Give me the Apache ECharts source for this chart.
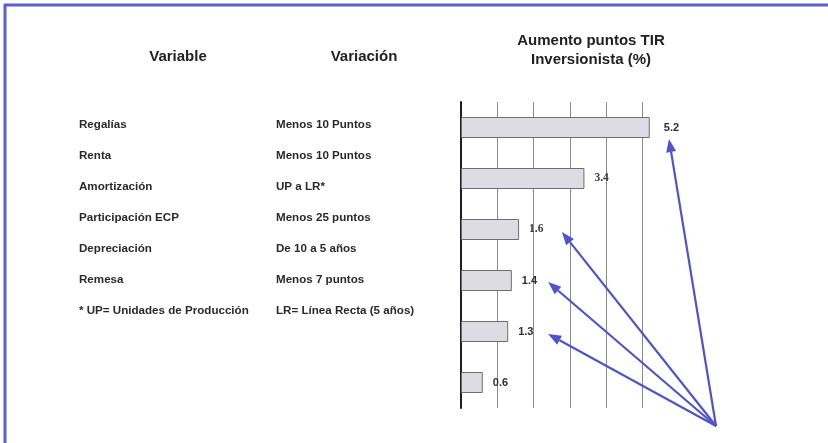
<!DOCTYPE html>
<html>
<head>
<meta charset="utf-8">
<script src="https://cdn.jsdelivr.net/npm/echarts@6/dist/echarts.min.js"></script>
<style>
html,body{margin:0;padding:0;background:#fff;}
#chart{width:828px;height:443px;}
</style>
</head>
<body>
<div id="chart"></div>
<script>
// ---- data ----
var categories = ['Regalías', 'Renta', 'Amortización', 'Participación ECP', 'Depreciación', 'Remesa'];
var values = [5.2, 3.4, 1.6, 1.4, 1.3, 0.6];
var variations = ['Menos 10 Puntos', 'Menos 10 Puntos', 'UP a LR*', 'Menos 25 puntos', 'De 10 a 5 años', 'Menos 7 puntos'];
var footnoteLeft = '* UP= Unidades de Producción';
var footnoteRight = 'LR= Línea Recta (5 años)';
var headers = ['Variable', 'Variación', 'Aumento puntos TIR', 'Inversionista (%)'];
// arrow targets: [value on x-axis, category index]
var arrowTargets = [[5.73, 0], [2.78, 2], [2.40, 3], [2.40, 4]];

// ---- layout / style ----
var arrowDy = [11.5, 2.5, 1.5, 2.5];
var arrowOrigin = [716, 426];
var blue = '#4f54cc';
var serifLabels = {1: true, 2: true};

var chart = echarts.init(document.getElementById('chart'));

var graphics = [];
// border (top + left)
graphics.push({type: 'line', shape: {x1: 4, y1: 5, x2: 828, y2: 5}, style: {stroke: '#5a5fd2', lineWidth: 3}, z: 10});
graphics.push({type: 'line', shape: {x1: 5, y1: 4, x2: 5, y2: 443}, style: {stroke: '#5a5fd2', lineWidth: 3}, z: 10});

var headStyle = {fill: '#222', font: 'bold 15px "Liberation Sans", Arial, sans-serif', textAlign: 'center', textVerticalAlign: 'middle'};
graphics.push({type: 'text', x: 178, y: 57, style: Object.assign({text: headers[0]}, headStyle)});
graphics.push({type: 'text', x: 364, y: 57, style: Object.assign({text: headers[1]}, headStyle)});
graphics.push({type: 'text', x: 591, y: 41, style: Object.assign({text: headers[2]}, headStyle)});
graphics.push({type: 'text', x: 591, y: 60, style: Object.assign({text: headers[3]}, headStyle)});

var rowFont = 'bold 11.6px "Liberation Sans", Arial, sans-serif';
var leftTexts = categories.concat([footnoteLeft]);
var rightTexts = variations.concat([footnoteRight]);
for (var i = 0; i < leftTexts.length; i++) {
  var yy = 125 + i * 31;
  graphics.push({type: 'text', x: 79, y: yy, style: {text: leftTexts[i], fill: '#2a2a2a', font: rowFont, textVerticalAlign: 'middle'}});
  graphics.push({type: 'text', x: 276, y: yy, style: {text: rightTexts[i], fill: '#2a2a2a', font: rowFont, textVerticalAlign: 'middle'}});
}

var seriesData = values.map(function (v, i) {
  var d = {value: v};
  if (serifLabels[i]) {
    d.label = {fontFamily: '"Liberation Serif", "DejaVu Serif", serif', fontWeight: 'bold', fontSize: 11.5, color: '#3a3a3a'};
  }
  if (i === 0) {
    d.label = {offset: [4, 0]};
  }
  return d;
});

chart.setOption({
  animation: false,
  backgroundColor: '#ffffff',
  grid: {left: 461, top: 102, width: 217.8, height: 306},
  xAxis: {
    type: 'value', min: 0, max: 6, interval: 1,
    axisLine: {show: false}, axisTick: {show: false}, axisLabel: {show: false},
    splitLine: {show: true, showMinLine: false, showMaxLine: false, lineStyle: {color: '#8a8a8a', width: 1}}
  },
  yAxis: {
    type: 'category', data: categories, inverse: true,
    axisLine: {show: true, lineStyle: {color: '#1e1e1e', width: 2}},
    axisTick: {show: true, inside: true, alignWithLabel: true, length: 5, lineStyle: {color: '#444', width: 1}},
    axisLabel: {show: false}
  },
  series: [{
    type: 'bar',
    data: seriesData,
    barWidth: 21,
    itemStyle: {color: '#dcdce2', borderColor: '#6e6e6e', borderWidth: 1},
    label: {show: true, position: 'right', distance: 10, color: '#2e2e2e', fontSize: 11, fontWeight: 'bold',
      fontFamily: '"Liberation Sans", Arial, sans-serif'}
  }],
  graphic: graphics
});

// arrows, anchored to data coordinates
var arrowEls = [];
arrowTargets.forEach(function (t, k) {
  var p = chart.convertToPixel({gridIndex: 0}, [t[0], categories[t[1]]]);
  var tx = p[0], ty = p[1] + arrowDy[k];
  var ox = arrowOrigin[0], oy = arrowOrigin[1];
  var dx = tx - ox, dy = ty - oy, len = Math.sqrt(dx * dx + dy * dy);
  var ux = dx / len, uy = dy / len;
  var hl = 13, hw = 5;
  var bx = tx - ux * hl, by = ty - uy * hl;
  arrowEls.push({type: 'line', shape: {x1: ox, y1: oy, x2: bx, y2: by}, style: {stroke: blue, lineWidth: 2.2}, z: 20});
  arrowEls.push({type: 'polygon', shape: {points: [[tx, ty], [bx - uy * hw, by + ux * hw], [bx + uy * hw, by - ux * hw]]}, style: {fill: blue}, z: 20});
});
chart.setOption({graphic: graphics.concat(arrowEls)});
</script>
</body>
</html>
